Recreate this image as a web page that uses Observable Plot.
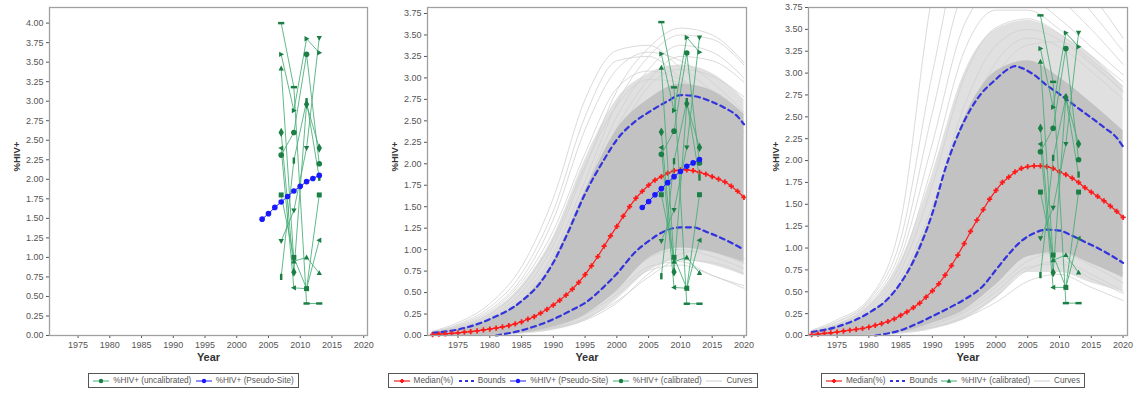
<!DOCTYPE html>
<html><head><meta charset="utf-8">
<script src="https://cdn.jsdelivr.net/npm/d3@7"></script>
<script src="https://cdn.jsdelivr.net/npm/@observablehq/plot@0.6"></script>
<style>
body{margin:0;background:#fff;}
#wrap{position:relative;width:1136px;height:394px;overflow:hidden;font-family:"Liberation Sans",Arial,sans-serif;background:#fff;}
.panel{position:absolute;top:0;}
.legend{position:absolute;top:373px;height:15px;box-sizing:border-box;border:1.5px solid #555;display:flex;align-items:center;justify-content:space-evenly;font-size:8.2px;color:#555;background:#fff;}
.item{display:flex;align-items:center;white-space:nowrap;}
.item svg{margin-right:4px;}
</style></head><body><div id="wrap"></div>
<script>
// ---------------- DATA ----------------
const xTicks = [1975,1980,1985,1990,1995,2000,2005,2010,2015,2020];
const yTicks1 = [0,0.25,0.5,0.75,1,1.25,1.5,1.75,2,2.25,2.5,2.75,3,3.25,3.5,3.75,4];
const yTicks23 = [0,0.25,0.5,0.75,1,1.25,1.5,1.75,2,2.25,2.5,2.75,3,3.25,3.5,3.75];

const siteYears = [2007, 2009, 2011, 2013];
const siteNames = ["A","B","C","D","E","F","G","H","I"];
const uncalibrated = [
  [4.00, 3.18, 0.41, 0.41],
  [3.60, 2.88, 3.80, 3.62],
  [3.42, 0.95, 1.00, 0.80],
  [2.60, 0.81, 2.96, 2.40],
  [2.40, 0.61, 0.60, 1.22],
  [2.31, 2.60, 3.60, 2.20],
  [1.80, 1.00, 0.60, 1.80],
  [1.21, 1.60, 2.40, 3.81],
  [0.75, 2.24, 3.00, 2.02]
];
const calibrated2 = [
  [3.65, 2.89, 0.37, 0.37],
  [3.28, 2.62, 3.47, 3.30],
  [3.12, 0.86, 0.91, 0.73],
  [2.37, 0.74, 2.70, 2.19],
  [2.19, 0.56, 0.55, 1.11],
  [2.11, 2.38, 3.29, 2.01],
  [1.64, 0.91, 0.55, 1.64],
  [1.10, 1.46, 2.19, 3.47],
  [0.69, 2.03, 2.73, 1.84]
];
const calibrated3 = [
  [3.66, 2.90, 0.37, 0.37],
  [3.28, 2.61, 3.46, 3.30],
  [3.13, 0.86, 0.92, 0.72],
  [2.37, 0.72, 2.72, 2.19],
  [2.19, 0.55, 0.55, 1.11],
  [2.10, 2.37, 3.28, 2.01],
  [1.64, 0.92, 0.55, 1.64],
  [1.11, 1.46, 2.19, 3.46],
  [0.69, 2.03, 2.72, 1.84]
];

const pseudoYears = [2004,2005,2006,2007,2008,2009,2010,2011,2012,2013];
const pseudoValues = [1.49,1.56,1.64,1.71,1.78,1.85,1.91,1.97,2.01,2.05];

const medianYears = [1971,1972,1973,1974,1975,1976,1977,1978,1979,1980,1981,1982,1983,1984,1985,1986,1987,1988,1989,1990,
  1991,1992,1993,1994,1995,1996,1997,1998,1999,2000,2001,2002,2003,2004,2005,2006,2007,2008,2009,2010,
  2011,2012,2013,2014,2015,2016,2017,2018,2019,2020];
const median2 = [0.01,0.015,0.02,0.025,0.03,0.04,0.045,0.055,0.065,0.075,0.085,0.10,0.115,0.135,0.16,0.19,0.22,0.26,0.305,0.355,
  0.41,0.47,0.54,0.62,0.71,0.81,0.92,1.04,1.16,1.27,1.39,1.50,1.60,1.68,1.75,1.81,1.85,1.89,1.92,1.93,
  1.93,1.92,1.90,1.88,1.85,1.82,1.79,1.74,1.68,1.61];
const median3 = [0.01,0.015,0.025,0.03,0.04,0.05,0.06,0.07,0.08,0.095,0.115,0.135,0.16,0.19,0.23,0.27,0.32,0.37,0.44,0.51,
  0.59,0.69,0.80,0.92,1.05,1.19,1.32,1.44,1.56,1.66,1.75,1.81,1.87,1.91,1.93,1.94,1.94,1.93,1.91,1.87,
  1.84,1.80,1.75,1.69,1.64,1.59,1.54,1.48,1.42,1.35];

const upperYears2 = [1971,1975,1980,1985,1988,1990,1992,1995,1998,2000,2003,2005,2008,2010,2012,2015,2017,2019,2020];
const upper2 = [0.03,0.07,0.19,0.40,0.62,0.85,1.15,1.65,2.05,2.28,2.50,2.60,2.73,2.80,2.79,2.72,2.65,2.55,2.46];
const lowerYears2 = [1981,1985,1988,1990,1993,1995,1998,2000,2003,2005,2008,2010,2012,2014,2016,2018,2020];
const lower2 = [0.0,0.06,0.13,0.19,0.30,0.38,0.57,0.72,0.98,1.10,1.23,1.26,1.26,1.21,1.15,1.08,1.00];

const upperYears3 = [1971,1975,1980,1983,1985,1987,1990,1992,1995,1997,2000,2002,2003,2004,2006,2008,2010,2012,2015,2017,2019,2020];
const upper3 = [0.04,0.10,0.26,0.42,0.60,0.85,1.40,1.90,2.45,2.70,2.93,3.05,3.08,3.06,2.98,2.86,2.76,2.65,2.49,2.38,2.26,2.16];
const lowerYears3 = [1981,1985,1988,1990,1993,1995,1998,2000,2002,2004,2006,2008,2010,2012,2014,2016,2018,2020];
const lower3 = [0.0,0.06,0.15,0.22,0.33,0.41,0.57,0.75,0.93,1.08,1.17,1.21,1.20,1.14,1.07,1.00,0.92,0.83];

const curveYears = [1971,1975,1980,1985,1990,1995,2000,2005,2010,2015,2020];
const core2Hi = [0.03,0.07,0.18,0.40,0.86,1.68,2.40,2.75,2.93,2.85,2.58];
const core2Lo = [0,0,0.005,0.03,0.10,0.24,0.52,0.90,1.02,0.97,0.85];
const halo2Hi = [0.04,0.10,0.26,0.58,1.15,2.05,2.75,3.05,3.15,3.05,2.75];
const halo2Lo = [0,0,0,0.015,0.06,0.17,0.42,0.75,0.88,0.82,0.70];
const core3Hi = [0.04,0.10,0.25,0.60,1.40,2.48,3.02,3.14,2.95,2.66,2.34];
const core3Lo = [0,0,0.005,0.035,0.14,0.29,0.58,0.90,0.95,0.82,0.66];
const halo3Hi = [0.05,0.13,0.34,0.85,1.85,3.00,3.50,3.60,3.45,3.20,2.85];
const halo3Lo = [0,0,0,0.015,0.07,0.18,0.42,0.72,0.72,0.60,0.50];

const curves2 = [
  [0.05,0.15,0.37,0.80,1.60,2.75,3.32,3.38,3.12,2.85,2.50],
  [0.04,0.12,0.30,0.66,1.35,2.40,3.10,3.30,3.20,2.95,2.60],
  [0.03,0.09,0.22,0.50,1.05,1.95,2.85,3.35,3.58,3.50,3.18],
  [0.03,0.08,0.20,0.45,0.95,1.80,2.70,3.25,3.50,3.45,3.15],
  [0.03,0.08,0.19,0.42,0.90,1.70,2.55,3.10,3.38,3.30,3.00],
  [0.03,0.07,0.17,0.38,0.82,1.58,2.42,2.98,3.25,3.20,2.95],
  [0.02,0.06,0.15,0.36,0.78,1.50,2.30,2.90,3.10,3.02,2.78],
  [0.04,0.11,0.28,0.62,1.22,2.12,2.88,3.08,2.98,2.72,2.38],
  [0.03,0.10,0.25,0.56,1.12,1.98,2.68,2.98,2.95,2.70,2.35],
  [0.04,0.13,0.33,0.72,1.45,2.55,3.20,3.25,3.00,2.70,2.30],
  [0,0.01,0.02,0.04,0.09,0.20,0.40,0.68,0.88,0.85,0.72],
  [0,0.01,0.02,0.05,0.10,0.24,0.48,0.76,0.82,0.70,0.55],
  [0,0.01,0.03,0.06,0.13,0.30,0.58,0.90,1.00,0.92,0.78],
  [0,0.01,0.02,0.04,0.08,0.18,0.38,0.72,0.95,1.00,0.90],
  [0,0.01,0.02,0.05,0.12,0.27,0.52,0.80,0.86,0.70,0.58],
  [0.01,0.02,0.04,0.08,0.18,0.38,0.68,0.98,1.08,0.98,0.84]
];
const curves3 = [
  [0.06,0.18,0.42,1.30,3.90,5.00,5.00,4.70,4.30,3.90,3.40],
  [0.05,0.16,0.40,1.10,3.00,4.50,4.70,4.40,4.10,3.70,3.25],
  [0.05,0.15,0.38,0.98,2.55,3.95,4.25,4.10,3.85,3.50,3.10],
  [0.04,0.13,0.36,0.90,2.20,3.55,3.95,3.88,3.62,3.30,2.98],
  [0.04,0.12,0.33,0.82,1.95,3.25,3.72,3.72,3.50,3.20,2.90],
  [0.04,0.11,0.30,0.74,1.72,2.95,3.52,3.62,3.45,3.15,2.85],
  [0.03,0.10,0.27,0.66,1.48,2.62,3.32,3.50,3.38,3.10,2.80],
  [0.03,0.09,0.24,0.58,1.28,2.35,3.12,3.40,3.30,3.02,2.70],
  [0.03,0.08,0.21,0.50,1.12,2.12,2.96,3.32,3.36,3.12,2.78],
  [0,0.01,0.02,0.05,0.10,0.22,0.45,0.75,0.85,0.70,0.50],
  [0,0.01,0.02,0.04,0.09,0.20,0.38,0.62,0.70,0.55,0.40],
  [0,0.01,0.03,0.06,0.13,0.28,0.55,0.85,0.95,0.80,0.60],
  [0,0.01,0.02,0.05,0.12,0.26,0.50,0.78,0.82,0.65,0.48],
  [0.01,0.02,0.04,0.08,0.18,0.38,0.70,1.00,1.05,0.90,0.72]
];

// ---------------- STYLE / HELPERS ----------------
const GREEN_LINE = "#45ad75", GREEN_DOT = "#1b7f45", BLUE = "#1a1aff", RED = "#ff1a1a", BOUND = "#3333dd", CURVE = "#d0d0d0";
function poly(points){ return {draw(ctx, size){ const s = Math.sqrt(size)/2.4; ctx.moveTo(points[0][0]*s, points[0][1]*s); for (const p of points.slice(1)) ctx.lineTo(p[0]*s, p[1]*s); ctx.closePath(); }}; }
const triUp = poly([[0,-1.4],[1.3,1],[-1.3,1]]);
const triDown = poly([[0,1.4],[1.3,-1],[-1.3,-1]]);
const triRight = poly([[1.4,0],[-1,1.3],[-1,-1.3]]);
const triLeft = poly([[-1.4,0],[1,1.3],[1,-1.3]]);
const hRect = poly([[-1.5,-0.6],[1.5,-0.6],[1.5,0.6],[-1.5,0.6]]);
const vRect = poly([[-0.6,-1.5],[0.6,-1.5],[0.6,1.5],[-0.6,1.5]]);
const siteSymbols = [hRect, triRight, triUp, "diamond", triLeft, "circle", "square", triDown, vRect];

function seriesRows(xs, ys){ return xs.map((x,i)=>({x, y: ys[i]})); }
function curveRows(list){ const rows=[]; list.forEach((c,k)=>c.forEach((v,i)=>rows.push({k, x: curveYears[i], y: v}))); return rows; }
function bandRows(lo, hi){ return curveYears.map((x,i)=>({x, lo: lo[i], hi: hi[i]})); }
function siteMarks(values){
  const marks = [];
  const rows = [];
  values.forEach((vals,k)=>vals.forEach((v,i)=>rows.push({site: siteNames[k], x: siteYears[i], y: v})));
  marks.push(Plot.line(rows, {x:"x", y:"y", z:"site", stroke: GREEN_LINE, strokeWidth: 1, strokeOpacity: 0.85}));
  values.forEach((vals,k)=>{
    marks.push(Plot.dot(seriesRows(siteYears, vals), {x:"x", y:"y", r: 2.8, symbol: siteSymbols[k], fill: GREEN_DOT, stroke: "none"}));
  });
  return marks;
}
function pseudoMarks(){
  const rows = seriesRows(pseudoYears, pseudoValues);
  return [
    Plot.line(rows, {x:"x", y:"y", stroke: BLUE, strokeWidth: 1}),
    Plot.dot(rows, {x:"x", y:"y", r: 2.8, fill: BLUE, stroke: "none"})
  ];
}
function medianMarks(vals){
  const rows = seriesRows(medianYears, vals);
  return [
    Plot.line(rows, {x:"x", y:"y", stroke: RED, strokeWidth: 1.2}),
    Plot.dot(rows, {x:"x", y:"y", r: 2.2, symbol: "cross", fill: RED, stroke: "none"})
  ];
}
function boundMarks(uy, u, ly, l){
  return [
    Plot.line(seriesRows(uy, u), {x:"x", y:"y", stroke: BOUND, strokeWidth: 2.2, strokeDasharray: "5,4", curve: "monotone-x"}),
    Plot.line(seriesRows(ly, l), {x:"x", y:"y", stroke: BOUND, strokeWidth: 2.2, strokeDasharray: "5,4", curve: "monotone-x"})
  ];
}
function curveMarks(list, core, halo){
  return [
    Plot.areaY(bandRows(halo[0], halo[1]), {x:"x", y1:"lo", y2:"hi", fill: "#e0e0e0", curve: "monotone-x", clip: true}),
    Plot.line(curveRows(list), {x:"x", y:"y", z:"k", stroke: CURVE, strokeWidth: 0.8, curve: "monotone-x", clip: true}),
    Plot.areaY(bandRows(core[0], core[1]), {x:"x", y1:"lo", y2:"hi", fill: "#c2c2c2", curve: "monotone-x", clip: true})
  ];
}

function panel(opts, marks){
  return Plot.plot({
    width: opts.width, height: 368,
    marginLeft: opts.mL, marginRight: opts.mR, marginTop: 7, marginBottom: 33,
    x: {domain: opts.xDom, ticks: xTicks, tickFormat: d => String(d), tickSize: 3, tickPadding: 3, label: null},
    y: {domain: opts.yDom, ticks: opts.yTicks, tickFormat: d3.format(".2f"), tickSize: 3, tickPadding: 3, label: null},
    style: {fontFamily: "'Liberation Sans', Arial, sans-serif", fontSize: "9px", color: "#555", background: "transparent"},
    marks: [
      ...marks,
      Plot.frame({stroke: "#a0a0a0", strokeWidth: 1.3}),
      Plot.text(["%HIV+"], {text: d => d, frameAnchor: "left", dx: -33, rotate: -90, fontWeight: "bold", fontSize: 9.5, fill: "#333"}),
      Plot.text(["Year"], {text: d => d, frameAnchor: "bottom", dy: 25, fontWeight: "bold", fontSize: 11, fill: "#333"})
    ]
  });
}

// ---------------- BUILD ----------------
const wrap = document.getElementById("wrap");
function place(node, left, width){
  const d = document.createElement("div"); d.className = "panel"; d.style.left = left + "px"; d.style.width = width + "px";
  d.appendChild(node); wrap.appendChild(d);
}

place(panel({width: 380, mL: 49, mR: 13, xDom: [1970.5, 2020.6], yDom: [0, 4.2], yTicks: yTicks1},
  [...siteMarks(uncalibrated), ...pseudoMarks()]), 0, 380);

place(panel({width: 380, mL: 47, mR: 14, xDom: [1970.2, 2020.4], yDom: [0, 3.82], yTicks: yTicks23},
  [...curveMarks(curves2, [core2Lo, core2Hi], [halo2Lo, halo2Hi]),
   ...boundMarks(upperYears2, upper2, lowerYears2, lower2),
   ...medianMarks(median2),
   ...siteMarks(calibrated2),
   ...pseudoMarks()]), 380, 380);

place(panel({width: 376, mL: 48, mR: 9, xDom: [1970.5, 2020.7], yDom: [0, 3.75], yTicks: yTicks23},
  [...curveMarks(curves3, [core3Lo, core3Hi], [halo3Lo, halo3Hi]),
   ...boundMarks(upperYears3, upper3, lowerYears3, lower3),
   ...medianMarks(median3),
   ...siteMarks(calibrated3)]), 760, 376);

// ---------------- LEGENDS ----------------
function swatch(type){
  const line = (c, w, dash) => `<line x1="0" y1="5" x2="16" y2="5" stroke="${c}" stroke-width="${w}" ${dash ? `stroke-dasharray="${dash}"` : ""}/>`;
  let inner = "";
  if (type === "red") inner = line(RED, 1.2) + `<path d="M7 3h2v1h1v2h-1v1h-2v-1h-1v-2h1z" fill="${RED}"/>`;
  if (type === "dash") inner = `<line x1="1" y1="5" x2="16" y2="5" stroke="${BOUND}" stroke-width="2" stroke-dasharray="3,3"/>`;
  if (type === "blue") inner = line(BLUE, 1) + `<circle cx="8" cy="5" r="2.2" fill="${BLUE}"/>`;
  if (type === "green") inner = line(GREEN_LINE, 1) + `<circle cx="8" cy="5" r="2.2" fill="${GREEN_DOT}"/>`;
  if (type === "greenTri") inner = line(GREEN_LINE, 1) + `<path d="M8 2.6L10.4 6.8H5.6Z" fill="${GREEN_DOT}"/>`;
  if (type === "gray") inner = line("#cccccc", 1);
  return `<svg width="16" height="10">${inner}</svg>`;
}
function legend(left, width, items){
  const d = document.createElement("div"); d.className = "legend";
  d.style.left = left + "px"; d.style.width = width + "px";
  d.innerHTML = items.map(([t, l]) => `<span class="item">${swatch(t)}${l}</span>`).join("");
  wrap.appendChild(d);
}
legend(88, 211, [["green", "%HIV+ (uncalibrated)"], ["blue", "%HIV+ (Pseudo-Site)"]]);
legend(388, 370, [["red", "Median(%)"], ["dash", "Bounds"], ["blue", "%HIV+ (Pseudo-Site)"], ["green", "%HIV+ (calibrated)"], ["gray", "Curves"]]);
legend(821, 264, [["red", "Median(%)"], ["dash", "Bounds"], ["greenTri", "%HIV+ (calibrated)"], ["gray", "Curves"]]);
</script></body></html>
